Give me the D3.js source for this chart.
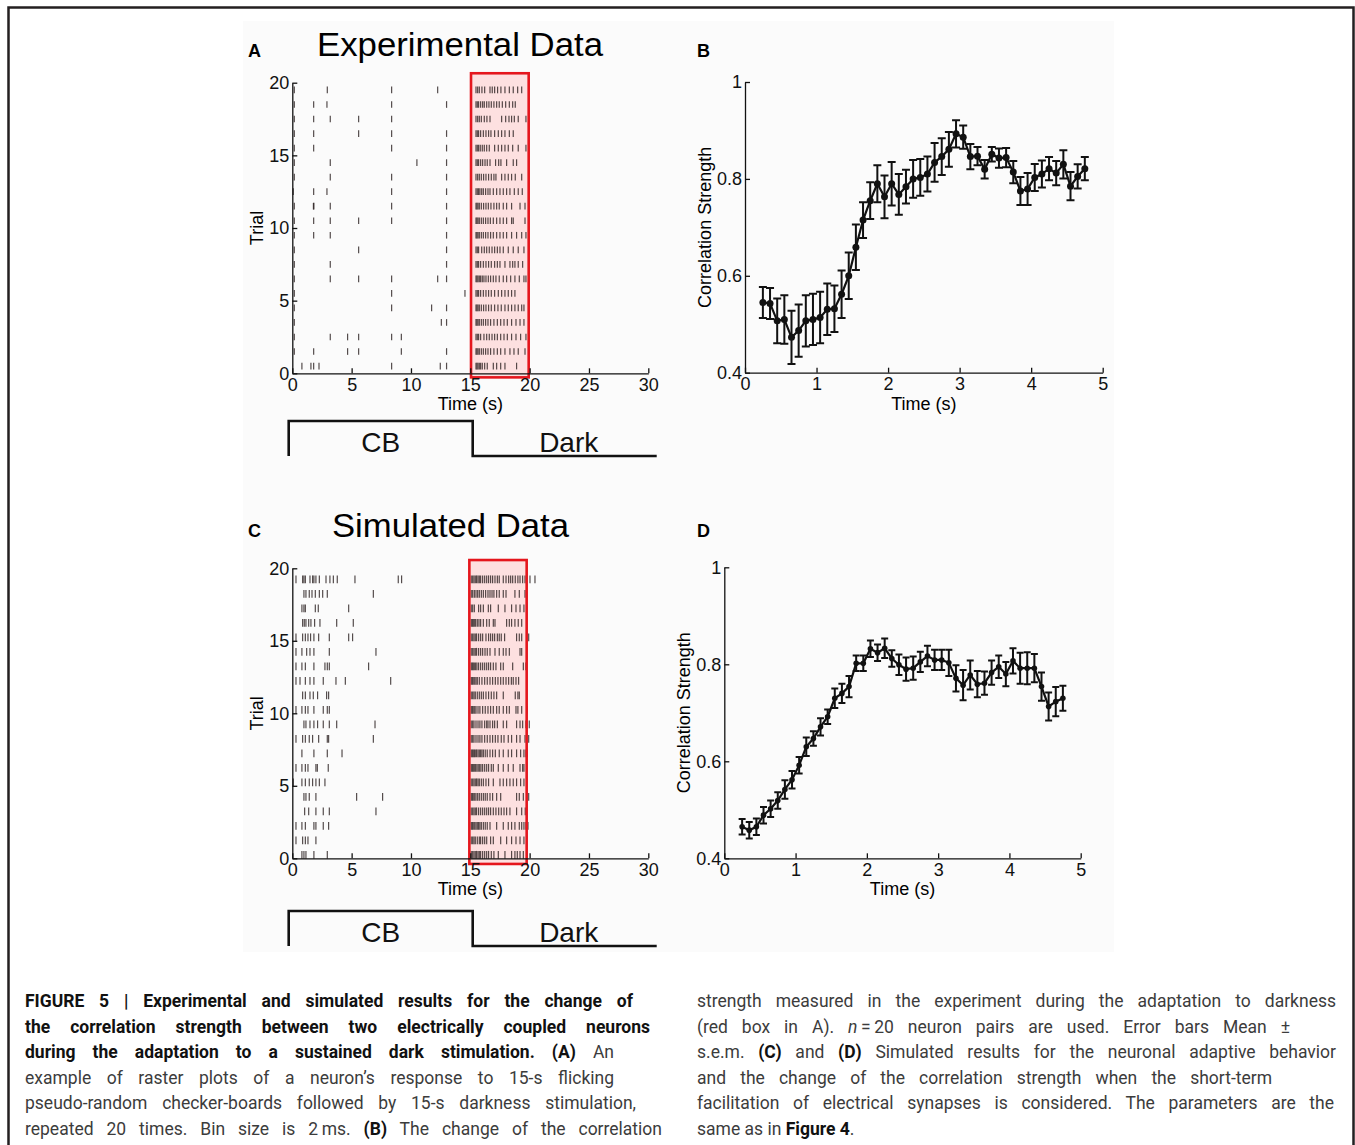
<!DOCTYPE html>
<html>
<head>
<meta charset="utf-8">
<script src="https://cdn.jsdelivr.net/npm/d3@7"></script>
<style>
  body { margin: 0; background: #fff; }
  svg { display: block; }
  text { font-family: "Liberation Sans", Arial, Helvetica, sans-serif; }
  .cap { font-family: Roboto, "Liberation Sans", Arial, sans-serif; }
</style>
</head>
<body>
<svg id="fig" width="1355" height="1145"></svg>
<script>
// ---- data ----
var rasterTicksX = [0, 5, 10, 15, 20, 25, 30];
var rasterTicksY = [0, 5, 10, 15, 20];
var corrTicksX = [0, 1, 2, 3, 4, 5];
var corrTicksY = [0.4, 0.6, 0.8, 1];
var epochs = [{ label: "CB", t0: 0, t1: 15 }, { label: "Dark", t0: 15, t1: 30 }];

// spike times (s), one array per trial, trial 20 first
var spikesExp = [
  [0.17, 2.95, 8.37, 12.25, 15.48, 15.62, 15.76, 15.98, 16.21, 16.66, 16.85, 17.05, 17.30, 17.58, 17.92, 18.29, 18.62, 18.99, 19.33],
  [0.17, 1.80, 2.92, 8.37, 13.0, 15.48, 15.59, 15.70, 15.87, 16.04, 16.18, 16.38, 16.57, 16.77, 16.99, 17.22, 17.44, 17.70, 17.98, 18.29, 18.57, 18.79],
  [0.17, 1.80, 3.20, 5.59, 8.37, 15.48, 15.62, 15.76, 15.93, 16.18, 16.40, 16.66, 17.64, 17.98, 18.26, 18.48, 18.71, 19.04, 19.69],
  [0.17, 1.80, 5.59, 8.37, 13.0, 15.48, 15.59, 15.70, 15.87, 16.10, 16.32, 16.54, 16.74, 17.05, 17.36, 17.64, 17.92, 18.29, 18.62],
  [0.17, 1.80, 8.37, 13.0, 15.48, 15.59, 15.70, 15.84, 16.01, 16.18, 16.38, 16.60, 17.05, 17.36, 17.64, 17.92, 18.20, 18.57, 19.04, 19.69],
  [0.17, 3.20, 10.5, 13.0, 15.48, 15.59, 15.70, 15.87, 16.04, 16.24, 16.43, 16.66, 17.13, 17.39, 17.58, 18.06, 18.62, 18.90],
  [0.17, 3.20, 8.37, 13.0, 15.48, 15.62, 15.76, 15.93, 16.12, 16.32, 16.54, 16.77, 16.99, 17.16, 17.64, 17.92, 18.20, 18.48, 18.79, 19.33],
  [0.08, 1.80, 2.92, 8.37, 13.0, 15.48, 15.59, 15.70, 15.81, 15.96, 16.10, 16.29, 16.49, 16.66, 16.94, 17.22, 17.50, 17.78, 18.06, 18.34, 18.71, 19.04, 19.38],
  [0.17, 1.78, 1.82, 3.20, 8.37, 13.0, 15.48, 15.56, 15.65, 15.76, 15.93, 16.12, 16.32, 16.52, 16.74, 16.99, 17.22, 17.44, 17.78, 18.06, 18.48, 19.19, 19.61],
  [0.17, 1.80, 3.20, 5.59, 8.37, 13.0, 15.48, 15.56, 15.65, 15.76, 15.93, 16.10, 16.29, 16.49, 16.69, 16.94, 17.22, 17.50, 17.78, 18.06, 18.48, 18.62, 19.61],
  [0.17, 1.80, 3.20, 13.0, 15.48, 15.56, 15.65, 15.76, 15.93, 16.10, 16.29, 16.49, 16.71, 16.94, 17.22, 17.50, 17.78, 18.06, 18.48, 18.90, 19.33, 19.69],
  [0.17, 5.59, 13.0, 15.48, 15.59, 15.70, 15.96, 16.18, 16.38, 16.60, 16.83, 17.05, 17.28, 17.50, 17.78, 18.20, 18.62, 19.04, 19.52],
  [0.17, 3.20, 13.0, 15.48, 15.59, 15.70, 15.87, 16.10, 16.32, 16.54, 16.77, 17.05, 17.28, 17.50, 17.92, 18.34, 18.57, 18.76, 19.04, 19.41],
  [0.17, 3.20, 5.59, 8.37, 12.25, 13.0, 15.48, 15.56, 15.65, 15.76, 15.87, 16.01, 16.15, 16.32, 16.52, 16.71, 16.94, 17.16, 17.44, 17.78, 18.06, 18.40, 18.76, 19.13, 19.52, 19.69],
  [0.17, 8.37, 14.55, 15.48, 15.59, 15.70, 15.87, 16.10, 16.32, 16.54, 16.77, 17.05, 17.36, 17.64, 17.92, 18.20, 18.48, 18.76],
  [0.17, 8.37, 11.74, 13.0, 15.48, 15.56, 15.65, 15.76, 15.93, 16.12, 16.32, 16.54, 16.77, 17.05, 17.33, 17.61, 17.92, 18.20, 18.48, 18.76, 19.04, 19.33, 19.52],
  [0.17, 12.56, 13.0, 15.48, 15.56, 15.65, 15.76, 15.93, 16.10, 16.29, 16.49, 16.71, 16.99, 17.28, 17.56, 17.84, 18.12, 18.48, 18.85, 19.19, 19.52],
  [0.17, 3.20, 4.66, 5.59, 8.37, 9.19, 15.48, 15.59, 15.70, 15.87, 16.15, 16.38, 16.60, 16.83, 17.05, 17.28, 17.56, 17.84, 18.12, 18.48, 18.85, 19.24, 19.69],
  [0.17, 1.80, 4.66, 5.59, 9.19, 13.0, 15.48, 15.56, 15.65, 15.76, 15.93, 16.10, 16.29, 16.49, 16.71, 16.99, 17.28, 17.56, 17.92, 18.34, 18.68, 19.04, 19.61],
  [0.81, 1.57, 1.80, 2.25, 8.37, 12.47, 13.0, 15.48, 15.56, 15.65, 15.76, 15.87, 16.01, 16.21, 16.43, 16.94, 17.22, 17.56, 17.92, 18.90]
];

var spikesSim = [
  [0.31, 0.87, 0.98, 1.10, 1.49, 1.71, 1.82, 1.99, 2.28, 2.84, 3.17, 3.46, 3.79, 5.28, 8.93, 9.21, 15.08, 15.20, 15.31, 15.42, 15.53, 15.65, 15.76, 15.87, 16.04, 16.21, 16.38, 16.54, 16.71, 16.88, 17.08, 17.28, 17.44, 17.78, 18.01, 18.23, 18.40, 18.57, 18.79, 19.01, 19.19, 19.41, 19.61, 20.03, 20.45],
  [0.98, 1.15, 1.43, 1.66, 1.94, 2.28, 2.56, 2.95, 6.83, 15.08, 15.20, 15.34, 15.48, 15.62, 15.76, 15.93, 16.10, 16.29, 16.49, 16.66, 16.83, 16.99, 17.22, 17.44, 17.78, 18.01, 18.76, 19.13, 19.61],
  [0.81, 0.98, 1.10, 1.94, 2.19, 4.75, 15.08, 15.20, 15.34, 15.70, 15.87, 16.10, 16.52, 16.71, 17.36, 17.92, 18.48, 18.85, 19.19, 19.52],
  [0.87, 1.01, 1.15, 1.38, 1.57, 1.88, 2.33, 3.74, 5.14, 15.08, 15.17, 15.25, 15.34, 15.45, 15.59, 15.73, 15.87, 16.10, 16.38, 16.60, 16.94, 17.08, 18.06, 18.29, 18.48, 18.76, 19.04, 19.33],
  [0.31, 0.87, 1.10, 1.32, 1.54, 1.82, 2.22, 3.12, 4.75, 5.08, 15.08, 15.20, 15.31, 15.42, 15.53, 15.70, 15.87, 16.04, 16.32, 16.54, 16.71, 16.88, 17.05, 17.28, 17.44, 17.61, 17.89, 18.90, 19.13, 19.33, 19.92],
  [0.31, 0.81, 1.21, 1.49, 1.82, 3.12, 7.05, 15.08, 15.20, 15.31, 15.42, 15.53, 15.70, 15.87, 16.04, 16.24, 16.43, 16.66, 17.08, 17.44, 17.78, 18.01, 18.29, 19.19, 19.33],
  [0.31, 0.81, 1.10, 1.82, 2.75, 2.95, 3.12, 6.43, 15.08, 15.17, 15.25, 15.34, 15.45, 15.56, 15.70, 15.87, 16.04, 16.21, 16.38, 16.54, 16.71, 16.94, 17.16, 17.56, 17.78, 18.57, 19.47, 19.69],
  [0.31, 0.65, 1.10, 1.49, 1.82, 2.61, 3.68, 4.47, 8.29, 15.08, 15.17, 15.25, 15.37, 15.48, 15.59, 15.76, 15.98, 16.21, 16.43, 16.66, 16.88, 17.11, 17.33, 17.56, 17.78, 18.01, 18.23, 18.46, 18.62, 18.85, 19.07],
  [0.87, 1.10, 1.49, 1.77, 2.13, 2.89, 3.06, 15.08, 15.20, 15.31, 15.42, 15.59, 15.76, 15.93, 16.10, 16.32, 16.54, 16.77, 16.99, 17.22, 17.78, 18.79, 19.01, 19.13],
  [0.31, 0.81, 1.10, 1.32, 1.82, 2.61, 2.95, 3.12, 15.08, 15.17, 15.25, 15.37, 15.48, 15.65, 15.81, 16.04, 16.26, 16.49, 16.71, 16.94, 17.22, 17.44, 17.78, 18.06, 18.29, 18.85, 19.01, 19.33, 19.80],
  [0.98, 1.15, 1.49, 1.82, 2.13, 2.61, 3.12, 3.74, 6.97, 15.08, 15.20, 15.31, 15.48, 15.65, 15.81, 15.98, 16.21, 16.38, 16.49, 16.66, 16.88, 17.05, 17.28, 17.78, 18.06, 18.90, 19.19, 19.41, 19.69, 19.97],
  [0.31, 0.87, 1.10, 1.43, 1.71, 2.22, 2.95, 3.06, 6.83, 15.08, 15.20, 15.31, 15.48, 15.65, 15.81, 15.98, 16.21, 16.43, 16.66, 16.88, 17.11, 17.33, 17.61, 17.84, 18.20, 18.48, 18.90, 19.19, 19.61, 19.92],
  [0.81, 1.82, 2.95, 4.19, 15.08, 15.17, 15.25, 15.34, 15.42, 15.53, 15.65, 15.76, 15.87, 15.98, 16.10, 16.26, 16.43, 16.66, 16.88, 17.11, 17.44, 17.78, 18.20, 18.48, 18.90, 19.24, 19.52, 19.69, 19.80],
  [0.31, 0.81, 1.10, 1.32, 1.99, 2.11, 3.03, 15.08, 15.17, 15.25, 15.34, 15.45, 15.56, 15.67, 15.79, 15.90, 16.04, 16.21, 16.38, 16.54, 16.77, 16.94, 17.36, 17.78, 18.20, 18.62, 19.19, 19.41, 19.52],
  [0.08, 0.81, 1.10, 1.43, 1.71, 1.99, 2.28, 2.75, 15.08, 15.20, 15.31, 15.42, 15.53, 15.65, 15.76, 15.93, 16.10, 16.32, 16.54, 16.94, 17.50, 17.78, 18.06, 18.34, 18.62, 18.90, 19.24, 19.52],
  [0.98, 1.15, 1.43, 1.99, 5.42, 7.61, 15.08, 15.17, 15.25, 15.37, 15.48, 15.62, 15.76, 15.93, 16.10, 16.26, 16.43, 16.66, 16.88, 17.22, 17.56, 18.90, 19.13, 19.47, 19.92],
  [1.04, 1.38, 1.99, 2.61, 3.12, 7.05, 15.08, 15.20, 15.31, 15.42, 15.53, 15.70, 15.87, 16.04, 16.21, 16.38, 16.54, 16.71, 16.94, 17.16, 17.39, 17.61, 17.84, 18.06, 18.34, 18.90, 19.33, 19.63],
  [0.31, 0.81, 1.10, 1.82, 1.99, 2.61, 3.06, 15.08, 15.17, 15.25, 15.37, 15.48, 15.59, 15.70, 15.81, 15.93, 16.10, 16.26, 16.43, 16.66, 17.22, 17.78, 18.20, 18.48, 18.76, 19.13, 19.33, 19.52, 19.69, 19.86],
  [0.31, 0.87, 1.10, 1.32, 1.99, 15.08, 15.20, 15.31, 15.42, 15.59, 15.76, 15.87, 16.04, 16.21, 16.38, 16.71, 16.94, 17.56, 18.06, 18.48, 18.85, 19.19, 19.52],
  [0.81, 0.98, 1.15, 1.82, 2.95, 15.08, 15.20, 15.31, 15.42, 15.53, 15.65, 15.76, 15.87, 16.04, 16.21, 16.38, 16.54, 16.77, 16.99, 17.36, 17.92, 18.48, 18.76, 18.96, 19.19, 19.47]
];

// correlation strength, 100 ms bins
var binTimes = [0.25, 0.35, 0.45, 0.55, 0.65, 0.75, 0.85, 0.95, 1.05, 1.15, 1.25, 1.35, 1.45, 1.55, 1.65, 1.75,
  1.85, 1.95, 2.05, 2.15, 2.25, 2.35, 2.45, 2.55, 2.65, 2.75, 2.85, 2.95, 3.05, 3.15, 3.25, 3.35,
  3.45, 3.55, 3.65, 3.75, 3.85, 3.95, 4.05, 4.15, 4.25, 4.35, 4.45, 4.55, 4.65, 4.75];
var corrExp = [0.545, 0.543, 0.507, 0.510, 0.473, 0.487, 0.507, 0.510, 0.514, 0.531, 0.532, 0.562, 0.600, 0.659, 0.715, 0.755,
  0.790, 0.763, 0.790, 0.768, 0.784, 0.800, 0.803, 0.810, 0.834, 0.846, 0.861, 0.893, 0.886, 0.846, 0.847, 0.820,
  0.851, 0.843, 0.844, 0.814, 0.775, 0.779, 0.803, 0.810, 0.821, 0.812, 0.830, 0.785, 0.805, 0.821];
var semExp = [0.032, 0.032, 0.046, 0.050, 0.055, 0.054, 0.053, 0.053, 0.053, 0.053, 0.048, 0.049, 0.048, 0.047, 0.037, 0.038,
  0.038, 0.044, 0.045, 0.042, 0.035, 0.039, 0.038, 0.036, 0.040, 0.038, 0.036, 0.028, 0.024, 0.026, 0.019, 0.019,
  0.015, 0.020, 0.020, 0.023, 0.029, 0.033, 0.028, 0.028, 0.024, 0.025, 0.029, 0.029, 0.025, 0.024];
var corrSim = [0.465, 0.458, 0.465, 0.489, 0.502, 0.519, 0.542, 0.562, 0.592, 0.630, 0.647, 0.671, 0.692, 0.730, 0.740, 0.754,
  0.802, 0.802, 0.832, 0.824, 0.833, 0.812, 0.799, 0.790, 0.792, 0.805, 0.817, 0.809, 0.809, 0.803, 0.771, 0.757,
  0.778, 0.759, 0.761, 0.783, 0.795, 0.780, 0.807, 0.792, 0.792, 0.792, 0.754, 0.713, 0.723, 0.730];
var semSim = [0.016, 0.017, 0.017, 0.017, 0.017, 0.017, 0.019, 0.018, 0.017, 0.019, 0.015, 0.018, 0.015, 0.020, 0.020, 0.022,
  0.016, 0.016, 0.017, 0.017, 0.020, 0.017, 0.021, 0.024, 0.024, 0.021, 0.021, 0.021, 0.021, 0.027, 0.027, 0.031,
  0.030, 0.027, 0.024, 0.025, 0.023, 0.025, 0.026, 0.032, 0.033, 0.029, 0.029, 0.029, 0.030, 0.026];

// caption lines: [text, style]  b = bold, i = italic
var captionLeft = [
  [["FIGURE 5 | Experimental and simulated results for the change of", "b"]],
  [["the correlation strength between two electrically coupled neurons", "b"]],
  [["during the adaptation to a sustained dark stimulation. (A)", "b"], [" An", ""]],
  [["example of raster plots of a neuron\u2019s response to 15-s flicking", ""]],
  [["pseudo-random checker-boards followed by 15-s darkness stimulation,", ""]],
  [["repeated 20 times. Bin size is 2\u2009ms. ", ""], ["(B)", "b"], [" The change of the correlation", ""]]
];
var captionRight = [
  [["strength measured in the experiment during the adaptation to darkness", ""]],
  [["(red box in A). ", ""], ["n", "i"], ["\u2009=\u200920 neuron pairs are used. Error bars Mean \u00b1", ""]],
  [["s.e.m. ", ""], ["(C)", "b"], [" and ", ""], ["(D)", "b"], [" Simulated results for the neuronal adaptive behavior", ""]],
  [["and the change of the correlation strength when the short-term", ""]],
  [["facilitation of electrical synapses is considered. The parameters are the", ""]],
  [["same as in ", ""], ["Figure 4", "b"], [".", ""]]
];
var captionLeftEnds = [633, 650, 614, 614, 636, 662];
var captionRightEnds = [1336, 1290, 1336, 1272, 1334, null];

// ---- drawing ----
var svg = d3.select("#fig");

svg.append("rect").attr("x", 243).attr("y", 21).attr("width", 871).attr("height", 931).attr("fill", "#fbfbfb");
svg.append("path").attr("d", "M8.5,1145V7.5H1353.5V1145")
    .attr("fill", "none").attr("stroke", "#231f20").attr("stroke-width", 2.5);

function styleAxis(g) {
    g.selectAll("path, line").attr("stroke", "#111").attr("stroke-width", 1.3);
    g.selectAll("text").attr("font-size", 18).attr("fill", "#111")
        .style("font-family", '"Liberation Sans", Arial, sans-serif');
}

function rasterPanel(o) {
    var x = d3.scaleLinear().domain([0, 30]).range([292.3, 648.3]);
    var y = d3.scaleLinear().domain([0, 20]).range([o.y0, o.y0 - o.h]);
    var g = svg.append("g");

    g.append("rect")
        .attr("x", x(o.box[0])).attr("y", y(o.box[3]))
        .attr("width", x(o.box[1]) - x(o.box[0]))
        .attr("height", y(o.box[2]) - y(o.box[3]))
        .attr("fill", "#fde0e0");

    o.spikes.forEach(function (row, i) {
        var trial = 20 - i;
        g.append("g").selectAll("line")
            .data(row)
            .enter()
            .append("line")
            .attr("x1", (d) => x(d)).attr("x2", (d) => x(d))
            .attr("y1", y(trial - o.off + o.half)).attr("y2", y(trial - o.off - o.half))
            .attr("stroke", "#2a2020").attr("stroke-width", 1.2).attr("stroke-opacity", 0.8);
    });

    g.append("rect")
        .attr("x", x(o.box[0])).attr("y", y(o.box[3]))
        .attr("width", x(o.box[1]) - x(o.box[0]))
        .attr("height", y(o.box[2]) - y(o.box[3]))
        .attr("fill", "none").attr("stroke", "#e5161d").attr("stroke-width", 2.6);

    g.append("g").attr("transform", "translate(0," + o.y0 + ")")
        .call(d3.axisBottom(x).tickValues(rasterTicksX).tickSizeInner(-5).tickSizeOuter(0).tickPadding(5))
        .call(styleAxis);
    g.append("g").attr("transform", "translate(292.3,0)")
        .call(d3.axisLeft(y).tickValues(rasterTicksY).tickSizeInner(-5).tickSizeOuter(0).tickPadding(3))
        .call(styleAxis);

    g.append("text").attr("x", x(15)).attr("y", o.y0 + 37).attr("text-anchor", "middle")
        .attr("font-size", 18).text("Time (s)");
    g.append("text").attr("transform", "translate(263," + (o.y0 - o.h / 2) + ") rotate(-90)")
        .attr("text-anchor", "middle").attr("font-size", 18).text("Trial");

    // stimulus bar
    var xs = d3.scaleLinear().domain([0, 30]).range([288.7, 656.7]);
    g.append("path")
        .attr("d", "M" + xs(0) + "," + o.barLow + "V" + o.barHigh + "H" + xs(15) + "V" + o.barLow + "H" + xs(30))
        .attr("fill", "none").attr("stroke", "#111").attr("stroke-width", 2.6);
    g.selectAll(".ep").data(epochs).enter().append("text")
        .attr("x", (d) => (xs(d.t0) + xs(d.t1)) / 2 + (d.label === "CB" ? 0 : 4))
        .attr("y", o.barLow - 4)
        .attr("text-anchor", "middle").attr("font-size", 28).attr("fill", "#111")
        .text((d) => d.label);
}

function corrPanel(o) {
    var x = d3.scaleLinear().domain([0, 5]).range(o.xr);
    var y = d3.scaleLinear().domain([0.4, 1]).range(o.yr);
    var g = svg.append("g");

    g.append("g").attr("transform", "translate(0," + o.yr[0] + ")")
        .call(d3.axisBottom(x).tickValues(corrTicksX).tickFormat(d3.format("d")).tickSizeInner(-5).tickSizeOuter(0).tickPadding(5))
        .call(styleAxis);
    g.append("g").attr("transform", "translate(" + o.xr[0] + ",0)")
        .call(d3.axisLeft(y).tickValues(corrTicksY).tickFormat(d3.format("~g")).tickSizeInner(-5).tickSizeOuter(0).tickPadding(3))
        .call(styleAxis);

    var cw = o.cap;
    g.selectAll(".eb").data(binTimes).enter().append("path")
        .attr("d", function (t, i) {
            var xi = x(t), hi = y(o.mean[i] + o.sem[i]), lo = y(o.mean[i] - o.sem[i]);
            return "M" + (xi - cw) + "," + hi + "H" + (xi + cw) + "M" + xi + "," + hi + "V" + lo +
                "M" + (xi - cw) + "," + lo + "H" + (xi + cw);
        })
        .attr("fill", "none").attr("stroke", "#111").attr("stroke-width", 2);

    var line = d3.line().x((d, i) => x(binTimes[i])).y((d) => y(d));
    g.append("path").datum(o.mean).attr("d", line)
        .attr("fill", "none").attr("stroke", "#111").attr("stroke-width", 2.2);

    g.selectAll(".pt").data(o.mean).enter().append("circle")
        .attr("cx", (d, i) => x(binTimes[i])).attr("cy", (d) => y(d)).attr("r", o.r).attr("fill", "#111");

    g.append("text").attr("x", x(2.5)).attr("y", o.yr[0] + 37).attr("text-anchor", "middle")
        .attr("font-size", 18).text("Time (s)");
    g.append("text").attr("transform", "translate(" + o.labX + "," + ((o.yr[0] + o.yr[1]) / 2) + ") rotate(-90)")
        .attr("text-anchor", "middle").attr("font-size", 18).text("Correlation Strength");
}

rasterPanel({ y0: 373.3, h: 290.6, spikes: spikesExp, off: 0.5, half: 0.23, box: [15.06, 19.92, -0.28, 20.65], barHigh: 421, barLow: 456 });
rasterPanel({ y0: 858.3, h: 290, spikes: spikesSim, off: 0.76, half: 0.27, box: [14.92, 19.75, -0.39, 20.57], barHigh: 911, barLow: 946 });
corrPanel({ xr: [745, 1102.7], yr: [372.7, 82], mean: corrExp, sem: semExp, cap: 4, r: 3.5, labX: 711 });
corrPanel({ xr: [724.3, 1080.7], yr: [858.3, 567.3], mean: corrSim, sem: semSim, cap: 3.5, r: 2.8, labX: 690 });

// panel letters and titles
[["A", 248, 57], ["B", 697, 57], ["C", 248, 537], ["D", 697, 537]].forEach(function (p) {
    svg.append("text").attr("x", p[1]).attr("y", p[2]).attr("font-size", 18).attr("font-weight", 700).text(p[0]);
});
svg.append("text").attr("x", 317).attr("y", 56).attr("font-size", 33)
    .attr("textLength", 286).attr("lengthAdjust", "spacingAndGlyphs").text("Experimental Data");
svg.append("text").attr("x", 332).attr("y", 537).attr("font-size", 33)
    .attr("textLength", 237).attr("lengthAdjust", "spacingAndGlyphs").text("Simulated Data");

// caption
function captionColumn(lines, x0, ends) {
    var baselines = [1007, 1032.5, 1058, 1083.5, 1109, 1134.5];
    lines.forEach(function (segs, i) {
        var t = svg.append("text").attr("class", "cap").attr("x", x0).attr("y", baselines[i]).attr("font-size", 17.5);
        var full = "";
        segs.forEach(function (s) {
            full += s[0];
            t.append("tspan").text(s[0])
                .attr("font-weight", s[1] === "b" ? 700 : 400)
                .attr("font-style", s[1] === "i" ? "italic" : null)
                .attr("fill", s[1] === "b" ? "#111" : "#3c3c3c");
        });
        if (ends[i] == null) return;
        var w = t.node().getComputedTextLength();
        var target = ends[i] - x0;
        var nSp = (full.match(/ /g) || []).length;
        if (w < target && nSp > 0) {
            t.attr("word-spacing", (target - w) / nSp);
        } else if (w > target) {
            t.attr("textLength", target).attr("lengthAdjust", "spacingAndGlyphs");
        }
    });
}
captionColumn(captionLeft, 25, captionLeftEnds);
captionColumn(captionRight, 697, captionRightEnds);
</script>
</body>
</html>
